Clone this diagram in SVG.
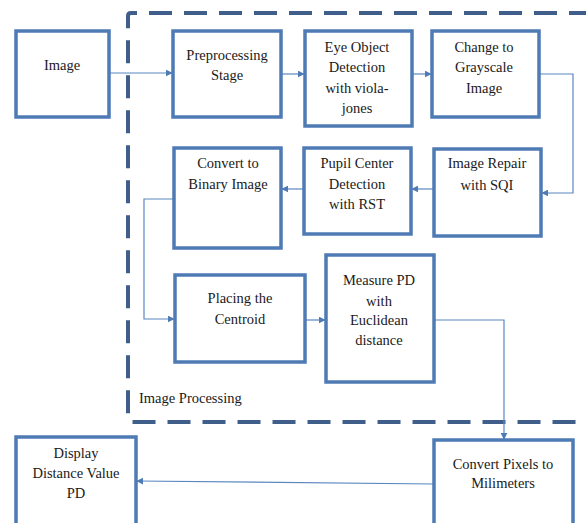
<svg xmlns="http://www.w3.org/2000/svg" width="586" height="523" viewBox="0 0 586 523">
<style>
.node rect{fill:#fff;stroke:#4f7bb5;stroke-width:3.5}
text{font-family:'Liberation Serif','Times New Roman','DejaVu Serif',serif;font-size:14.5px;fill:#1a1a1a;text-anchor:middle}
.lbl{text-anchor:start}
.conn{fill:none;stroke:#5a87c0;stroke-width:1.2}
.group{fill:none;stroke:#3f5e8a;stroke-width:4;stroke-dasharray:23 12}
</style>
<defs>
<marker id="ah" viewBox="0 0 10 10" refX="9" refY="5" markerWidth="7" markerHeight="7" markerUnits="userSpaceOnUse" orient="auto">
<path d="M0,0 L10,5 L0,10 z" fill="#4f7bb5"/>
</marker>
</defs>
<rect width="586" height="523" fill="#fff"/>
<g id="image-processing">
<path class="group" d="M592,13 L131,13 Q128,13 128,16 L128,419 Q128,422 131,422 L592,422"/>
<text class="lbl" x="139" y="403">Image Processing</text>
</g>
<g id="connectors">
<path class="conn" d="M109,73 L172,73" marker-end="url(#ah)"/>
<path class="conn" d="M281,74 L304,74" marker-end="url(#ah)"/>
<path class="conn" d="M412,74 L431,74" marker-end="url(#ah)"/>
<path class="conn" d="M539,74 L573,74 L573,193 L542,193" marker-end="url(#ah)"/>
<path class="conn" d="M434,189 L412,189" marker-end="url(#ah)"/>
<path class="conn" d="M304,189 L282,189" marker-end="url(#ah)"/>
<path class="conn" d="M174,199 L144,199 L144,319 L174,319" marker-end="url(#ah)"/>
<path class="conn" d="M305,320 L325,320" marker-end="url(#ah)"/>
<path class="conn" d="M435,320 L504,320 L504,439" marker-end="url(#ah)"/>
<path class="conn" d="M434,484 L137,481" marker-end="url(#ah)"/>
</g>
<g id="image" class="node"><rect x="16" y="31" width="93" height="86"/><text x="62" y="70">Image</text></g>
<g id="preprocessing" class="node"><rect x="173" y="31" width="108" height="86"/><text x="227" y="60">Preprocessing</text><text x="227" y="80">Stage</text></g>
<g id="eye-detection" class="node"><rect x="305" y="31" width="107" height="95"/><text x="357" y="52">Eye Object</text><text x="357" y="72">Detection</text><text x="357" y="93">with viola-</text><text x="357" y="113">jones</text></g>
<g id="grayscale" class="node"><rect x="432" y="31" width="107" height="86"/><text x="484" y="52">Change to</text><text x="484" y="72">Grayscale</text><text x="484" y="93">Image</text></g>
<g id="image-repair" class="node"><rect x="434" y="149" width="107" height="87"/><text x="487" y="168">Image Repair</text><text x="487" y="190">with SQI</text></g>
<g id="pupil-center" class="node"><rect x="304" y="148" width="107" height="86"/><text x="357" y="168">Pupil Center</text><text x="357" y="189">Detection</text><text x="357" y="209">with RST</text></g>
<g id="binary" class="node"><rect x="174" y="148" width="107" height="100"/><text x="228" y="168">Convert to</text><text x="228" y="189">Binary Image</text></g>
<g id="centroid" class="node"><rect x="175" y="275" width="130" height="87"/><text x="240" y="303">Placing the</text><text x="240" y="324">Centroid</text></g>
<g id="measure-pd" class="node"><rect x="326" y="255" width="108" height="127"/><text x="379" y="285">Measure PD</text><text x="379" y="306">with</text><text x="379" y="325">Euclidean</text><text x="379" y="345">distance</text></g>
<g id="convert-mm" class="node"><rect x="434" y="440" width="139" height="95"/><text x="503" y="469">Convert Pixels to</text><text x="503" y="488">Milimeters</text></g>
<g id="display" class="node"><rect x="16" y="437" width="120" height="98"/><text x="76" y="458">Display</text><text x="76" y="478">Distance Value</text><text x="76" y="498">PD</text></g>
</svg>
